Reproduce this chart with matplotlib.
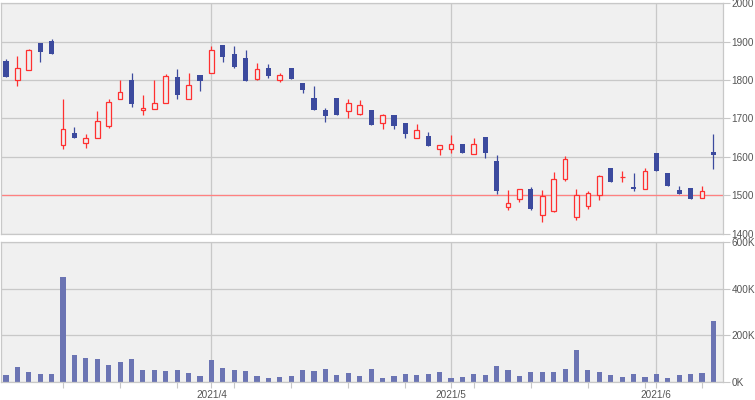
import numpy as np
import pandas as pd
import matplotlib
matplotlib.use("Agg")
import matplotlib.pyplot as plt

plt.rcParams["font.family"] = ["Liberation Sans", "DejaVu Sans"]

# trading days (Tokyo), 2021-03-08 .. 2021-06-08
holidays = ["2021-04-29", "2021-05-03", "2021-05-04", "2021-05-05"]
dates = pd.bdate_range("2021-03-08", "2021-06-08")
dates = dates[~dates.isin(pd.to_datetime(holidays))]

opens = [1850, 1799, 1825, 1896, 1901, 1630, 1663, 1637, 1650, 1681,
         1750, 1800, 1722, 1724, 1739, 1808, 1750, 1813, 1817, 1891,
         1868, 1857, 1802, 1831, 1799, 1831, 1792, 1754, 1722, 1754,
         1719, 1711, 1722, 1688, 1709, 1688, 1648, 1654, 1619, 1620,
         1633, 1607, 1651, 1589, 1470, 1489, 1517, 1448, 1459, 1543,
         1443, 1471, 1500, 1570, 1547, 1522, 1516, 1610, 1558, 1514,
         1519, 1492, 1613]
highs = [1856, 1863, 1880, 1896, 1906, 1750, 1677, 1659, 1720, 1750,
         1800, 1818, 1762, 1800, 1816, 1829, 1818, 1813, 1889, 1891,
         1889, 1878, 1845, 1843, 1818, 1831, 1792, 1785, 1727, 1754,
         1750, 1749, 1722, 1712, 1709, 1688, 1685, 1664, 1630, 1657,
         1633, 1650, 1651, 1604, 1513, 1516, 1520, 1513, 1561, 1603,
         1516, 1511, 1553, 1570, 1563, 1558, 1571, 1610, 1558, 1524,
         1519, 1524, 1660]
lows = [1809, 1785, 1825, 1848, 1869, 1621, 1650, 1624, 1650, 1675,
        1750, 1730, 1708, 1724, 1739, 1751, 1750, 1772, 1817, 1846,
        1830, 1798, 1799, 1804, 1796, 1802, 1765, 1723, 1690, 1710,
        1700, 1708, 1684, 1673, 1673, 1650, 1648, 1629, 1604, 1610,
        1611, 1607, 1598, 1503, 1460, 1481, 1460, 1431, 1457, 1538,
        1434, 1465, 1486, 1535, 1533, 1511, 1516, 1562, 1525, 1502,
        1491, 1492, 1569]
closes = [1809, 1830, 1877, 1874, 1869, 1672, 1650, 1648, 1693, 1742,
          1770, 1738, 1727, 1740, 1810, 1762, 1787, 1798, 1877, 1861,
          1835, 1798, 1829, 1811, 1812, 1802, 1773, 1723, 1707, 1710,
          1740, 1735, 1684, 1710, 1681, 1660, 1671, 1629, 1630, 1633,
          1611, 1633, 1611, 1512, 1479, 1516, 1465, 1497, 1542, 1594,
          1500, 1505, 1550, 1535, 1548, 1515, 1564, 1562, 1525, 1502,
          1491, 1510, 1604]
volume_k = [30, 64, 43, 34, 34, 450, 116, 103, 99, 73,
            86, 99, 51, 51, 47, 51, 39, 26, 94, 60,
            51, 47, 26, 17, 21, 26, 51, 47, 56, 30,
            39, 26, 56, 17, 26, 34, 30, 34, 43, 17,
            21, 34, 30, 69, 51, 26, 43, 43, 43, 56,
            137, 51, 43, 30, 21, 34, 21, 34, 17, 30,
            34, 39, 261]
ref_line = 1500
price_ticks = [1400, 1500, 1600, 1700, 1800, 1900, 2000]
vol_ticks = [0, 200, 400, 600]

up_col = "#ff3030"
down_col = "#3c4a9e"
vol_col = "#6b74b3"
bg = "#f0f0f0"
grid_col = "#c8c8c8"
txt_col = "#555555"

x = np.arange(len(dates))
o = np.array(opens); h = np.array(highs); l = np.array(lows); c = np.array(closes)
up = c >= o

month_pos = [i for i in range(1, len(dates)) if dates[i].month != dates[i - 1].month]
month_lab = [f"{dates[i].year}/{dates[i].month}" for i in month_pos]
week_pos = [i for i in range(1, len(dates)) if dates[i].weekday() < dates[i - 1].weekday()]

fig = plt.figure(figsize=(7.55, 4.0), dpi=100)
ax1 = fig.add_axes([0.0013, 0.41625, 0.9557, 0.5756])
ax2 = fig.add_axes([0.0013, 0.045, 0.9557, 0.3488])

for ax in (ax1, ax2):
    ax.set_facecolor(bg)
    ax.set_xlim(-0.44, 62.8)
    for s in ax.spines.values():
        s.set_color(grid_col)
        s.set_linewidth(0.9)
    ax.yaxis.tick_right()
    ax.tick_params(axis="y", direction="out", length=5, width=0.8, color=grid_col,
                   labelcolor=txt_col, labelsize=7.2, pad=1.5)
    for p in month_pos:
        ax.axvline(p, color=grid_col, lw=0.9, zorder=0)

# price panel
ax1.set_ylim(1400, 2000)
ax1.set_yticks(price_ticks)
ax1.grid(axis="y", color=grid_col, lw=0.9, zorder=0)
ax1.set_axisbelow(True)
ax1.set_xticks([])
ax1.axhline(ref_line, color="#ff8080", lw=0.9, zorder=1)

ax1.vlines(x[up], l[up], h[up], color=up_col, lw=0.9, zorder=2)
ax1.vlines(x[~up], l[~up], h[~up], color=down_col, lw=0.9, zorder=2)
body_lo = np.minimum(o, c)
body_h = np.maximum(np.abs(c - o), 0.8)
ax1.bar(x[up], body_h[up], bottom=body_lo[up], width=0.42, facecolor=bg,
        edgecolor=up_col, linewidth=0.9, zorder=3)
ax1.bar(x[~up], body_h[~up], bottom=body_lo[~up], width=0.45, color=down_col,
        linewidth=0, zorder=3)

# volume panel
ax2.set_ylim(0, 600)
ax2.set_yticks(vol_ticks)
ax2.set_yticklabels([f"{v}K" for v in vol_ticks])
ax2.grid(axis="y", color=grid_col, lw=0.9, zorder=0)
ax2.set_axisbelow(True)
ax2.bar(x, volume_k, width=0.45, color=vol_col, zorder=2)
ax2.set_xticks(month_pos)
ax2.set_xticklabels(month_lab)
ax2.set_xticks(week_pos, minor=True)
ax2.tick_params(axis="x", which="both", direction="out", length=4, width=0.8,
                color=grid_col, labelcolor=txt_col, labelsize=7.2, pad=2)

fig.savefig("out.png", dpi=100)
